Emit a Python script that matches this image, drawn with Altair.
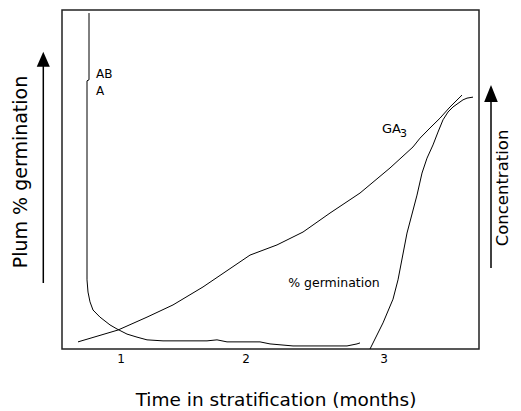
import altair as alt
import pandas as pd

# ---- data (months, relative level 0-100) ----
aba_month = [0.744, 0.744, 0.728, 0.728, 0.736, 0.752, 0.776, 0.832, 0.912, 0.968, 1.048,
             1.128, 1.208, 1.336, 1.688, 1.768, 1.848, 2.112, 2.192, 2.376, 2.808, 2.888, 2.912]
aba_value = [99.1, 79.4, 79.1, 20.4, 16.8, 13.9, 11.5, 9.4, 7.1, 5.9, 4.4,
             3.5, 2.7, 2.4, 2.4, 2.7, 2.1, 2.1, 1.5, 0.9, 0.9, 1.5, 1.8]

ga3_month = [0.656, 0.976, 1.208, 1.416, 1.656, 2.032, 2.248, 2.456, 2.672, 2.912, 3.152,
             3.336, 3.392, 3.472, 3.552, 3.632, 3.728]
ga3_value = [2.1, 5.6, 9.4, 13.0, 18.3, 27.7, 30.7, 34.5, 40.1, 46.0, 53.4,
             59.6, 62.2, 65.2, 68.1, 71.4, 74.9]

germ_month = [2.992, 3.096, 3.176, 3.216, 3.288, 3.368, 3.408, 3.448, 3.496, 3.536, 3.576,
              3.616, 3.656, 3.736, 3.768, 3.816]
germ_value = [0, 7.7, 14.7, 20.4, 34.2, 45.4, 51.9, 56.3, 60.2, 64.0, 67.6,
              69.9, 71.4, 73.5, 74.0, 74.3]

tick_months = [1, 2, 3.104]
tick_labels = ["1", "2", "3"]

label_texts = ["AB", "A", "GA", "3"]
label_months = [0.8, 0.8, 3.088, 3.232]
label_values = [79.9, 74.9, 63.7, 62.5]
label_sizes = [12, 12, 13, 11]

germ_label = "% germination"
germ_label_month = 2.704
germ_label_value = 19.5

x_title = "Time in stratification (months)"
left_title = "Plum % germination"
right_title = "Concentration"

# ---- tables ----
rows = []
for name, ms, vs in [("ABA", aba_month, aba_value), ("GA3", ga3_month, ga3_value),
                     ("germ", germ_month, germ_value)]:
    for i, (m, v) in enumerate(zip(ms, vs)):
        rows.append({"series": name, "month": m, "value": v, "i": i})
curves = pd.DataFrame(rows)
ticks = pd.DataFrame({"month": tick_months, "label": tick_labels})
labels = pd.DataFrame({"text": label_texts, "month": label_months,
                       "value": label_values, "size": label_sizes})
germ_lab = pd.DataFrame({"text": [germ_label], "month": [germ_label_month],
                         "value": [germ_label_value]})
one = pd.DataFrame({"k": [0]})

W, H = 417, 339
FONT = "DejaVu Sans"
xs = alt.Scale(domain=[0.528, 3.864], nice=False, zero=False)
ys = alt.Scale(domain=[0, 100], nice=False, zero=False)

lines = alt.Chart(curves).mark_line(color="black", strokeWidth=1, interpolate="linear").encode(
    x=alt.X("month:Q", scale=xs, axis=None),
    y=alt.Y("value:Q", scale=ys, axis=None),
    detail="series:N",
    order="i:Q",
)

tick_text = alt.Chart(ticks).mark_text(font=FONT, fontSize=12, color="black",
                                       align="center", baseline="middle").encode(
    x=alt.X("month:Q", scale=xs, axis=None),
    y=alt.value(H + 10.4),
    text="label:N",
)

curve_labels = alt.Chart(labels).mark_text(font=FONT, color="black", align="left",
                                           baseline="alphabetic").encode(
    x=alt.X("month:Q", scale=xs, axis=None),
    y=alt.Y("value:Q", scale=ys, axis=None),
    size=alt.Size("size:Q", scale=None, legend=None),
    text="text:N",
)

germ_text = alt.Chart(germ_lab).mark_text(font=FONT, fontSize=12.5, color="black",
                                          align="center", baseline="middle").encode(
    x=alt.X("month:Q", scale=xs, axis=None),
    y=alt.Y("value:Q", scale=ys, axis=None),
    text="text:N",
)

title_x = alt.Chart(one).mark_text(font=FONT, fontSize=18.5, color="black",
                                   align="center", baseline="middle",
                                   text=x_title).encode(
    x=alt.value(214), y=alt.value(389.5))

title_left = alt.Chart(one).mark_text(font=FONT, fontSize=19, color="black", angle=270,
                                      align="center", baseline="middle",
                                      text=left_title).encode(
    x=alt.value(-41), y=alt.value(162))

title_right = alt.Chart(one).mark_text(font=FONT, fontSize=16.5, color="black", angle=270,
                                       align="center", baseline="middle",
                                       text=right_title).encode(
    x=alt.value(440.5), y=alt.value(178))

arrow_left = alt.Chart(one).mark_rule(color="black", strokeWidth=1.5).encode(
    x=alt.value(-18.7), y=alt.value(50), y2=alt.value(273))
head_left = alt.Chart(one).mark_point(shape="M0,-1L0.87,1L-0.87,1Z", filled=True,
                                      color="black", opacity=1, size=225).encode(
    x=alt.value(-18.7), y=alt.value(49.2))

arrow_right = alt.Chart(one).mark_rule(color="black", strokeWidth=1.5).encode(
    x=alt.value(429), y=alt.value(85), y2=alt.value(258))
head_right = alt.Chart(one).mark_point(shape="M0,-1L0.8,1L-0.8,1Z", filled=True,
                                       color="black", opacity=1, size=289).encode(
    x=alt.value(429), y=alt.value(83.4))

chart = alt.layer(
    lines, tick_text, curve_labels, germ_text, title_x, title_left, title_right,
    arrow_left, head_left, arrow_right, head_right,
).properties(
    width=W, height=H,
    autosize=alt.AutoSizeParams(type="none"),
    padding={"left": 54, "top": 2, "right": 34, "bottom": 62},
).configure_view(stroke="#222", strokeWidth=1.5)

chart.save("out.html", embed_options={"renderer": "svg", "actions": False})
